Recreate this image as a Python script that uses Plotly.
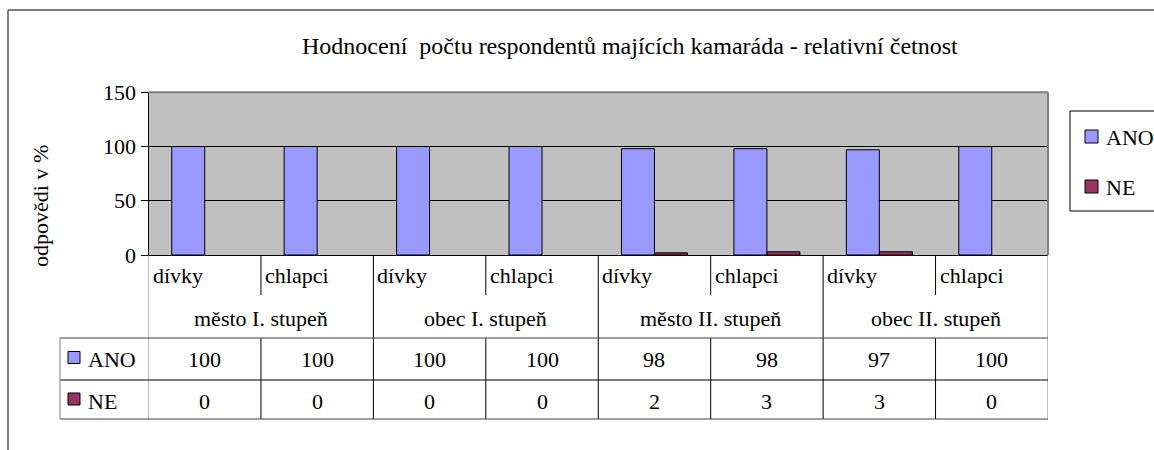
import plotly.graph_objects as go

# ---- data ----
groups = ["město I. stupeň", "obec I. stupeň", "město II. stupeň", "obec II. stupeň"]
genders = ["dívky", "chlapci"]
ano = [100, 100, 100, 100, 98, 98, 97, 100]
ne = [0, 0, 0, 0, 2, 3, 3, 0]
series_names = ["ANO", "NE"]
y_ticks = [0, 50, 100, 150]
title_text = "Hodnocení  počtu respondentů majících kamaráda - relativní četnost"
y_title = "odpovědi v %"

# ---- styling ----
W, H = 1154, 450
FONT = "Liberation Serif"
C_ANO = "#9999FF"
C_NE = "#993366"
COLORS = [C_ANO, C_NE]
PLOT_BG = "#C0C0C0"
LINE = "#000000"
GRAY = "#808080"
FS = 22


def px(x):
    return x / W


def py(y):
    return 1 - y / H


# plot area in pixels
PL, PR, PT, PB = 148.5, 1048, 92.3, 255
ROW_CAT = (255, 295)
ROW_GRP = (298, 338)
ROW_ANO = (338, 381)
ROW_NE = (380, 422)
ROW_NE_BOTTOM = 419
TBL_LEFT = 60

cats = [f"{g}|{s}" for g in groups for s in genders]
xs = list(range(len(cats)))


def blank_zero(vals):
    return [v if v else None for v in vals]


fig = go.Figure()
for name, vals, col in zip(series_names, [ano, ne], COLORS):
    fig.add_trace(go.Bar(x=xs, y=blank_zero(vals), name=name, showlegend=False,
                         marker=dict(color=col, line=dict(color=LINE, width=1))))

shapes = []
annotations = []

# outer chart border
shapes.append(dict(type="rect", xref="paper", yref="paper",
                   x0=px(8), x1=px(1170), y0=py(470), y1=py(10),
                   line=dict(color=LINE, width=1), fillcolor="rgba(0,0,0,0)", layer="below"))

# plot area top/right gray border
shapes.append(dict(type="line", xref="paper", yref="paper", x0=px(PL), x1=px(PR), y0=py(PT), y1=py(PT),
                   line=dict(color=GRAY, width=2), layer="above"))
shapes.append(dict(type="line", xref="paper", yref="paper", x0=px(PR), x1=px(PR), y0=py(PT), y1=py(PB),
                   line=dict(color=GRAY, width=2), layer="above"))

# table grid
n = len(cats)
for i in range(n + 1):
    xb = i - 0.5
    edge = i == 0 or i == n
    if i % 2 == 0:
        shapes.append(dict(type="line", xref="x", yref="paper", x0=xb, x1=xb,
                           y0=py(ROW_CAT[0]), y1=py(ROW_GRP[1]),
                           line=dict(color=GRAY if edge else LINE, width=1)))
    else:
        shapes.append(dict(type="line", xref="x", yref="paper", x0=xb, x1=xb,
                           y0=py(ROW_CAT[0]), y1=py(ROW_CAT[1]),
                           line=dict(color=LINE, width=1)))
    shapes.append(dict(type="line", xref="x", yref="paper", x0=xb, x1=xb,
                       y0=py(ROW_ANO[0]), y1=py(ROW_NE_BOTTOM),
                       line=dict(color=GRAY if edge else LINE, width=1)))

for yy, col in [(ROW_ANO[0], "#404040"), (ROW_NE[0], LINE), (ROW_NE_BOTTOM, "#404040")]:
    shapes.append(dict(type="line", xref="paper", yref="paper", x0=px(TBL_LEFT), x1=px(PR),
                       y0=py(yy), y1=py(yy), line=dict(color=col, width=1)))
shapes.append(dict(type="line", xref="paper", yref="paper", x0=px(TBL_LEFT), x1=px(TBL_LEFT),
                   y0=py(ROW_ANO[0]), y1=py(ROW_NE_BOTTOM), line=dict(color=GRAY, width=1)))

tfont = dict(family=FONT, size=FS, color="black")

# table legend keys + row labels
for name, (r0, r1), col in zip(series_names, [ROW_ANO, ROW_NE], COLORS):
    cy = (r0 + r1) / 2
    shapes.append(dict(type="rect", xref="paper", yref="paper",
                       x0=px(68), x1=px(80), y0=py(cy + 4), y1=py(cy - 8),
                       fillcolor=col, line=dict(color=LINE, width=1)))
    annotations.append(dict(x=px(86), xref="paper", y=py(cy), yref="paper",
                            text=name, showarrow=False, xanchor="left", yanchor="middle", font=tfont))

# category labels
for i, c in enumerate(cats):
    annotations.append(dict(x=i - 0.5, xref="x", y=py((ROW_CAT[0] + ROW_CAT[1]) / 2), yref="paper",
                            text=c.split("|")[1], showarrow=False, xanchor="left", yanchor="middle",
                            xshift=2, font=tfont))
# group labels
for gi, g in enumerate(groups):
    annotations.append(dict(x=2 * gi + 0.5, xref="x", y=py((ROW_GRP[0] + ROW_GRP[1]) / 2), yref="paper",
                            text=g, showarrow=False, xanchor="center", yanchor="middle", font=tfont))
# values
for vals, (r0, r1) in [(ano, ROW_ANO), (ne, ROW_NE)]:
    for i, v in enumerate(vals):
        annotations.append(dict(x=i, xref="x", y=py((r0 + r1) / 2), yref="paper",
                                text=str(v), showarrow=False, xanchor="center", yanchor="middle",
                                font=tfont))

# legend (right)
LEG_BOX = (1070, 111, 1200, 211)
shapes.append(dict(type="rect", xref="paper", yref="paper",
                   x0=px(LEG_BOX[0]), x1=px(LEG_BOX[2]), y0=py(LEG_BOX[3]), y1=py(LEG_BOX[1]),
                   line=dict(color=LINE, width=1), fillcolor="white"))
for k, (name, col) in enumerate(zip(series_names, COLORS)):
    cy = 136.5 + 50 * k
    shapes.append(dict(type="rect", xref="paper", yref="paper",
                       x0=px(1085), x1=px(1098), y0=py(cy + 6.5), y1=py(cy - 6.5),
                       fillcolor=col, line=dict(color=LINE, width=1)))
    annotations.append(dict(x=px(1104), xref="paper", y=py(cy + 1), yref="paper",
                            text=name, showarrow=False, xanchor="left", yanchor="middle", font=tfont))

# title
annotations.append(dict(x=px(630), y=py(46), xref="paper", yref="paper", text=title_text,
                        showarrow=False, xanchor="center", yanchor="middle",
                        font=dict(family=FONT, size=24, color="black")))
# y-axis title
annotations.append(dict(x=px(40), y=py(206), xref="paper", yref="paper", text=y_title,
                        showarrow=False, xanchor="center", yanchor="middle", textangle=-90,
                        font=dict(family=FONT, size=FS, color="black")))

fig.update_layout(
    width=W, height=H,
    margin=dict(l=0, r=0, t=0, b=0, autoexpand=False),
    paper_bgcolor="white",
    plot_bgcolor=PLOT_BG,
    barmode="group",
    bargap=0.413,
    bargroupgap=0,
    showlegend=False,
    xaxis=dict(domain=[px(PL), px(PR)], range=[-0.5, n - 0.5], showticklabels=False,
               showline=True, linecolor=LINE, linewidth=1, ticks="", showgrid=False,
               zeroline=False, fixedrange=True, automargin=False),
    yaxis=dict(domain=[py(PB), py(PT)], range=[0, 150], tickvals=y_ticks, ticks="outside",
               ticklen=7, tickcolor=LINE, showline=True, linecolor=LINE, linewidth=1,
               gridcolor=LINE, gridwidth=1, zeroline=False, fixedrange=True, automargin=False,
               tickfont=dict(family=FONT, size=FS, color="black")),
    shapes=shapes,
    annotations=annotations,
)

fig.write_html("out.html", config={"displayModeBar": False},
               post_script="document.body.style.margin='0';document.body.style.overflow='hidden';")
